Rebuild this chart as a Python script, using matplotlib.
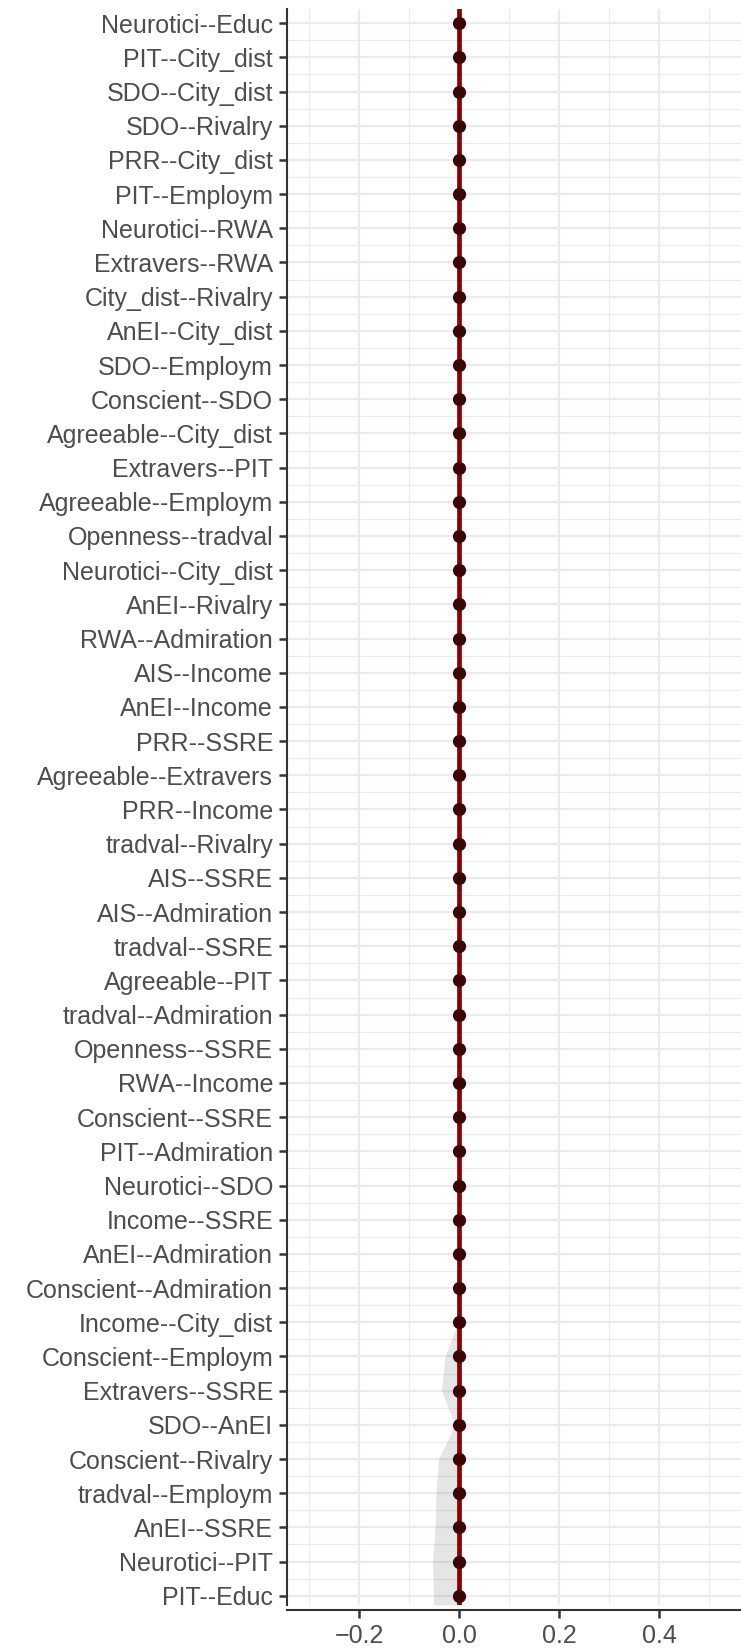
import numpy as np
import matplotlib.pyplot as plt

plt.rcParams['font.family'] = ['Liberation Sans', 'DejaVu Sans']

# edges, top to bottom
edges = [
    "Neurotici--Educ", "PIT--City_dist", "SDO--City_dist", "SDO--Rivalry",
    "PRR--City_dist", "PIT--Employm", "Neurotici--RWA", "Extravers--RWA",
    "City_dist--Rivalry", "AnEI--City_dist", "SDO--Employm", "Conscient--SDO",
    "Agreeable--City_dist", "Extravers--PIT", "Agreeable--Employm",
    "Openness--tradval", "Neurotici--City_dist", "AnEI--Rivalry",
    "RWA--Admiration", "AIS--Income", "AnEI--Income", "PRR--SSRE",
    "Agreeable--Extravers", "PRR--Income", "tradval--Rivalry", "AIS--SSRE",
    "AIS--Admiration", "tradval--SSRE", "Agreeable--PIT", "tradval--Admiration",
    "Openness--SSRE", "RWA--Income", "Conscient--SSRE", "PIT--Admiration",
    "Neurotici--SDO", "Income--SSRE", "AnEI--Admiration", "Conscient--Admiration",
    "Income--City_dist", "Conscient--Employm", "Extravers--SSRE", "SDO--AnEI",
    "Conscient--Rivalry", "tradval--Employm", "AnEI--SSRE", "Neurotici--PIT",
    "PIT--Educ",
]

# sample edge weights (red line) and bootstrap means (points)
sample = [0.0] * 47
boot_mean = [0.0] * 47

# bootstrap CI bounds (grey area)
ci_lower = [0.0] * 38 + [-0.002, -0.028, -0.035, -0.008, -0.041,
                         -0.046, -0.048, -0.053, -0.051]
ci_upper = [0.0] * 47

x_ticks = [-0.2, 0.0, 0.2, 0.4]
x_minor = [-0.3, -0.1, 0.1, 0.3, 0.5]

y_top = -0.415
y_bottom = 46.27

fig = plt.figure(figsize=(7.41, 16.5), dpi=100)
ax = fig.add_axes([287 / 741, 45 / 1650, 454 / 741, 1596 / 1650])

y = np.arange(len(edges))

# grid
grid_col = "#ebebeb"
for yy in y:
    ax.axhline(yy, color=grid_col, lw=1.6, zorder=0)
for yy in y[:-1] + 0.5:
    ax.axhline(yy, color=grid_col, lw=0.8, zorder=0)
for xx in x_ticks:
    ax.axvline(xx, color=grid_col, lw=1.6, zorder=0)
for xx in x_minor:
    ax.axvline(xx, color=grid_col, lw=0.8, zorder=0)

# extend line and ribbon to panel edges
y_ext = np.concatenate([[y_top], y, [y_bottom]])
lo_ext = np.concatenate([[ci_lower[0]], ci_lower, [ci_lower[-1]]])
hi_ext = np.concatenate([[ci_upper[0]], ci_upper, [ci_upper[-1]]])
s_ext = np.concatenate([[sample[0]], sample, [sample[-1]]])

ax.fill_betweenx(y_ext, lo_ext, hi_ext, color="grey", alpha=0.2, lw=0, zorder=1)
ax.plot(s_ext, y_ext, color="#8b0000", lw=3.4, zorder=2)
ax.plot(boot_mean, y, "o", color="#3d0606", ms=9.5, mew=0, zorder=3)

ax.set_xlim(-0.344, 0.564)
ax.set_ylim(y_bottom, y_top)

ax.set_yticks(y)
ax.set_yticklabels(edges)
ax.set_xticks(x_ticks)
ax.set_xticklabels([f"{v:.1f}".replace("-", "\u2212") for v in x_ticks])

ax.tick_params(axis="both", labelsize=18, colors="#333333", labelcolor="#4d4d4d",
               length=6, width=1.8, pad=4)

for s in ["top", "right"]:
    ax.spines[s].set_visible(False)
for s in ["left", "bottom"]:
    ax.spines[s].set_color("#333333")
    ax.spines[s].set_linewidth(1.5)
ax.spines["bottom"].set_position(("outward", 3.6))

fig.savefig("out.png", dpi=100)
